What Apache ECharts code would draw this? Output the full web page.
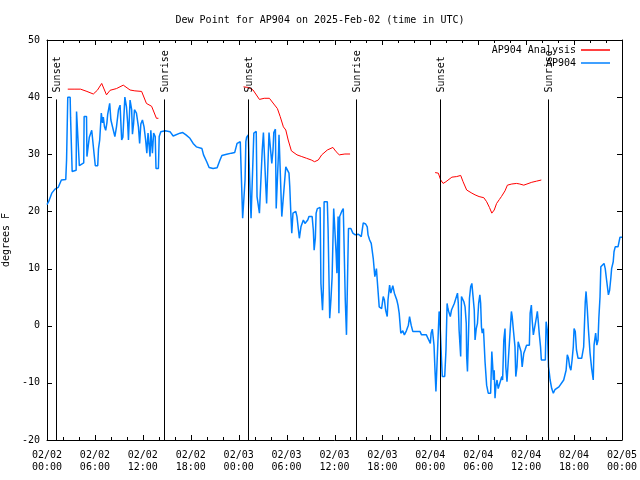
<!DOCTYPE html>
<html><head><meta charset="utf-8">
<script src="https://cdn.jsdelivr.net/npm/echarts@6/dist/echarts.min.js"></script>
<style>html,body{margin:0;padding:0;background:#fff}#c{width:640px;height:480px}</style>
</head><body><div id="c"></div>
<script>
// hours since 2025-02-02 00:00 UTC
const xTickLabels = ['02/02\n00:00','02/02\n06:00','02/02\n12:00','02/02\n18:00','02/03\n00:00','02/03\n06:00','02/03\n12:00','02/03\n18:00','02/04\n00:00','02/04\n06:00','02/04\n12:00','02/04\n18:00','02/05\n00:00'];
const xTickHours = [0,2,4,6,8,10,12,14,16,18,20,22,24,26,28,30,32,34,36,38,40,42,44,46,48,50,52,54,56,58,60,62,64,66,68,70,72];
const yTicks = [-20,-10,0,10,20,30,40,50];
const sunTimes = [1.13, 14.69, 25.2, 38.73, 49.25, 62.77];
const sunLabels = ['Sunset','Sunrise','Sunset','Sunrise','Sunset','Sunrise'];
const sunLineTop = 39.6;

const obsA = [[0.0,21.2],[0.2,21.7],[0.6,23.2],[1.0,23.9],[1.4,24.2],[1.8,25.5],[2.35,25.6],[2.45,29.0],[2.6,40.0],[2.9,40.0],[2.95,36.5],[3.1,36.3],[3.15,27.0],[3.65,27.2],[3.7,37.5],[3.95,37.2],[4.05,28.0],[4.6,28.5],[4.65,36.6],[4.95,36.6],[5.0,29.6],[5.2,29.8],[5.3,33.0],[5.6,34.2],[5.8,34.3],[5.9,30.0],[6.05,28.0],[6.35,28.0],[6.45,31.0],[6.6,32.5],[6.8,37.2],[6.95,35.5],[7.05,36.5],[7.2,34.8],[7.35,34.2],[7.5,35.5],[7.6,37.0],[7.85,38.9],[8.0,36.0],[8.5,33.1],[8.7,34.8],[8.95,37.8],[9.15,38.6],[9.35,32.5],[9.5,33.0],[9.75,40.0],[9.95,38.3],[10.1,35.5],[10.2,32.5],[10.4,39.5],[10.6,37.8],[10.7,33.5],[10.85,35.5],[10.95,37.8],[11.2,37.2],[11.45,34.8],[11.6,31.9],[11.75,35.3],[11.95,36.0],[12.15,34.8],[12.35,32.5],[12.5,30.2],[12.65,33.7],[12.9,29.6],[13.0,34.2],[13.2,30.2],[13.35,33.7],[13.55,33.1],[13.65,27.5],[13.95,27.5],[14.05,33.1],[14.25,33.96],[14.45,34.1]];
const obsB = [[14.8,34.1],[15.4,33.96],[15.8,33.2],[16.0,33.1],[16.65,33.7],[17.0,33.8],[17.4,33.4],[17.9,32.8],[18.3,31.9],[18.7,31.3],[19.4,31.0],[19.6,29.9],[20.0,28.7],[20.3,27.7],[20.8,27.5],[21.3,27.65],[21.66,29.0],[21.9,29.8],[22.5,30.0],[23.1,30.2],[23.5,30.3],[23.8,31.9],[24.05,32.2]];
const obsC = [[24.2,32.2],[24.45,32.2],[24.5,18.8],[24.75,18.8],[24.8,25.5],[24.9,32.2],[25.0,33.0],[25.2,33.4],[25.3,33.4],[25.45,22.6],[25.55,18.8],[25.8,18.8],[25.9,33.7],[26.2,34.0],[26.3,22.6],[26.5,22.8],[26.6,19.7],[26.85,19.7],[26.95,30.7],[27.1,33.8],[27.35,33.8],[27.4,24.3],[27.5,21.4],[27.75,21.4],[27.8,33.8],[27.95,34.0],[28.15,28.4],[28.3,30.7],[28.4,33.8],[28.6,34.4],[28.7,20.5],[28.9,20.5],[29.0,30.7],[29.05,33.4],[29.25,33.2],[29.4,19.1],[29.6,18.8],[29.9,27.8],[30.1,27.8],[30.3,26.7],[30.4,24.3],[30.55,19.1],[30.65,16.2],[30.8,19.7],[31.0,20.0],[31.15,20.0],[31.3,19.1],[31.5,19.1],[31.6,15.3],[31.8,17.3],[32.1,18.5],[32.3,17.9],[32.5,18.2],[32.65,18.5],[32.8,19.1],[33.2,19.1],[33.35,16.7],[33.45,13.2],[33.6,15.3],[33.7,19.7],[33.85,20.5],[34.2,20.7],[34.3,7.4],[34.5,2.7],[34.6,6.5],[34.7,21.7],[35.1,21.7],[35.2,16.7],[35.4,1.3],[35.55,4.5],[35.7,8.5],[35.9,20.5],[36.1,20.8],[36.2,12.7],[36.3,9.2],[36.45,19.1],[36.55,2.2],[36.65,19.1],[36.9,20.0],[37.1,20.5],[37.25,20.8],[37.35,4.5],[37.5,-1.6],[37.7,-1.6],[37.75,17.0],[38.05,17.0],[38.3,16.2],[38.6,15.9],[38.8,15.6],[39.0,16.0]];
const obsD = [[39.2,16.2],[39.35,15.6],[39.6,18.0],[39.9,17.8],[40.1,17.3],[40.2,15.9],[40.4,15.0],[40.6,14.4],[40.85,11.8],[41.05,8.6],[41.25,10.0],[41.35,8.0],[41.6,3.3],[41.9,3.0],[42.1,5.1],[42.25,4.5],[42.4,2.75],[42.6,1.6],[42.7,4.5],[42.9,7.1],[43.05,5.7],[43.3,7.0],[43.5,5.7],[43.8,4.5],[43.95,3.6],[44.1,2.2],[44.3,-1.3],[44.55,-0.9],[44.75,-1.6],[45.0,-0.9],[45.25,0.1],[45.4,1.6],[45.6,0.1],[45.8,-1.0],[46.3,-1.0],[46.7,-1.0],[46.9,-1.6],[47.5,-1.6],[47.8,-2.5],[48.0,-3.1],[48.1,-1.3],[48.25,-0.6],[48.4,-0.6],[48.46,-3.4],[48.6,-8.3],[48.7,-11.5],[48.85,-11.5],[49.0,-1.0]];
const obsE = [[49.1,2.5],[49.2,1.0],[49.4,-6.0],[49.5,-8.9],[49.8,-8.9],[49.96,-4.25],[50.1,3.9],[50.2,3.0],[50.3,2.5],[50.5,1.6],[50.65,2.75],[50.9,2.75],[51.0,3.9],[51.25,3.9],[51.4,5.7],[51.5,3.9],[51.6,-0.75],[51.8,-5.4],[51.9,5.1],[52.1,5.1],[52.2,4.2],[52.35,3.3],[52.5,0.4],[52.55,-5.4],[52.65,-8.0],[52.75,-3.0],[52.9,4.8],[53.05,6.8],[53.2,7.4],[53.35,5.1],[53.5,2.75],[53.6,-2.5],[53.75,-0.5],[53.9,0.4],[54.05,3.9],[54.2,5.4],[54.3,3.9],[54.4,-0.2],[54.5,-1.3],[54.65,-0.5],[54.85,-6.3],[55.05,-10.4],[55.25,-11.8],[55.55,-11.8],[55.7,-4.5],[55.8,-6.9],[55.9,-9.5],[56.0,-7.8],[56.1,-12.7],[56.2,-10.7],[56.35,-9.5],[56.5,-11.0],[56.75,-11.2],[56.95,-8.9],[57.05,-9.5],[57.2,-2.5],[57.35,-0.5],[57.45,-7.2],[57.6,-9.8],[57.85,-9.8],[58.0,-0.75],[58.15,2.5],[58.25,1.6],[58.4,-0.75],[58.6,-3.7],[58.7,-8.9],[58.85,-7.2],[59.0,-2.8],[59.25,-2.5],[59.35,-4.5],[59.5,-7.2],[59.7,-4.8],[59.85,-4.25],[60.05,-3.4],[60.4,-3.4],[60.5,2.2],[60.65,3.6],[60.75,1.0],[60.9,-1.6],[61.1,-1.3],[61.3,1.6],[61.4,2.5],[61.5,1.0],[61.65,-1.6],[61.8,-3.7],[61.9,-6.0],[62.4,-6.0],[62.5,0.7],[62.65,-0.75],[62.8,-7.2],[62.9,-8.3],[63.0,-9.5],[63.2,-11.0],[63.4,-11.8],[63.6,-11.2],[63.8,-11.0],[64.1,-10.7],[64.3,-10.4],[64.7,-9.5],[64.85,-9.5],[65.0,-7.8],[65.15,-5.1],[65.3,-5.7],[65.45,-7.2],[65.6,-7.8],[65.75,-6.0],[65.9,-3.7],[66.0,-0.5],[66.15,-1.0],[66.3,-4.25],[66.5,-5.7],[66.95,-5.7],[67.2,-3.7],[67.4,4.2],[67.5,6.0],[67.65,3.0],[67.8,-0.75],[68.0,-4.8],[68.2,-7.5],[68.4,-9.5],[68.5,-3.4],[68.7,-1.3],[68.85,-3.4],[69.0,-2.5],[69.1,1.3],[69.25,5.1],[69.35,10.3],[69.75,10.9],[69.9,10.0],[70.07,8.0],[70.3,5.4],[70.45,6.2],[70.6,8.3],[70.7,10.0],[70.9,11.2],[71.0,12.95],[71.15,13.8],[71.5,13.8],[71.75,15.5],[72.0,15.5]];

const anaSeg1 = [[2.6,41.4],[3.5,41.4],[4.2,41.4],[5.0,41.0],[5.8,40.55],[6.3,41.2],[6.85,42.4],[7.45,40.4],[7.9,41.2],[8.7,41.5],[9.55,42.1],[10.4,41.25],[11.0,41.1],[11.85,41.0],[12.45,38.9],[13.1,38.4],[13.7,36.3],[13.95,36.3]];
const anaSeg2 = [[24.6,41.8],[25.2,41.7],[25.8,41.25],[26.6,39.6],[27.2,39.8],[27.85,39.8],[28.4,38.8],[28.85,38.0],[29.2,36.6],[29.6,34.8],[29.9,34.25],[30.2,32.5],[30.6,30.6],[31.3,29.9],[31.9,29.6],[32.5,29.3],[33.1,29.0],[33.5,28.7],[33.97,29.0],[34.4,29.9],[35.1,30.75],[35.8,31.2],[36.2,30.45],[36.6,29.9],[37.3,30.05],[37.95,30.05]];
const anaSeg3 = [[48.6,26.8],[49.0,26.7],[49.3,25.5],[49.6,24.9],[49.95,25.2],[50.7,26.0],[51.3,26.1],[51.8,26.3],[52.1,25.2],[52.55,23.75],[53.2,23.2],[53.6,22.9],[54.1,22.6],[54.7,22.4],[55.05,21.7],[55.4,20.7],[55.7,19.7],[56.0,20.25],[56.3,21.4],[56.65,22.1],[56.9,22.6],[57.35,23.6],[57.65,24.6],[58.2,24.8],[58.8,24.9],[59.2,24.8],[59.7,24.6],[60.1,24.8],[60.7,25.1],[61.3,25.3],[61.9,25.5]];

const FONT = 'DejaVu Sans Mono';
const BLUE = '#0080ff', RED = '#ff0000';
const obsAll = obsA.concat(obsB, obsC, obsD, obsE);

const chart = echarts.init(document.getElementById('c'), null, {renderer:'canvas'});
function xAxisOpt(pos, showLabel){
  return {type:'value', position:pos, min:0, max:72, interval:6,
    axisLine:{show:true, onZero:false, lineStyle:{color:'#000', width:1}},
    splitLine:{show:false},
    axisTick:{show:false},
    axisLabel:showLabel ? {show:true, margin:9, lineHeight:12, fontFamily:FONT, fontSize:10, color:'#000',
        formatter:v => xTickLabels[Math.round(v/6)]} : {show:false}};
}
function yAxisOpt(pos, showLabel){
  const o = {type:'value', position:pos, min:-20, max:50, interval:10,
    axisLine:{show:true, onZero:false, lineStyle:{color:'#000', width:1}},
    splitLine:{show:false},
    axisTick:{show:false},
    axisLabel:showLabel ? {show:true, margin:7, fontFamily:FONT, fontSize:10, color:'#000',
        formatter:v => yTicks.includes(v) ? String(v) : ''} : {show:false}};
  if (showLabel) {
    o.name = 'degrees F'; o.nameLocation = 'middle'; o.nameGap = 32;
    o.nameTextStyle = {fontFamily:FONT, fontSize:10, color:'#000'};
  }
  return o;
}
const legText = {fontFamily:FONT, fontSize:10, color:'#000'};

function px(v){ return Math.round(v) + 0.5; }

const option = {
  animation:false,
  backgroundColor:'#fff',
  title:{text:'Dew Point for AP904 on 2025-Feb-02 (time in UTC)', left:'center', top:10,
    textStyle:{fontFamily:FONT, fontSize:10, fontWeight:'normal', color:'#000'}},
  grid:{left:47, right:18, top:40, bottom:40, containLabel:false, outerBoundsMode:'none'},
  legend:[
    {data:['AP904 Analysis'], right:30, top:45, padding:0, align:'right', icon:'rect', itemWidth:29, itemHeight:1.5,
     textStyle:legText},
    {data:['AP904'], right:30, top:58, padding:0, align:'right', icon:'rect', itemWidth:29, itemHeight:1.5,
     textStyle:legText}
  ],
  xAxis:[xAxisOpt('bottom', true), xAxisOpt('top', false)],
  yAxis:[yAxisOpt('left', true), yAxisOpt('right', false)],
  series:[
    {name:'AP904', type:'line', data:obsAll, symbol:'none', z:2,
     lineStyle:{color:BLUE, width:1.5}, itemStyle:{color:BLUE}},
    {name:'AP904 Analysis', type:'line', data:anaSeg1, symbol:'none', z:3,
     lineStyle:{color:RED, width:1}, itemStyle:{color:RED}},
    {name:'AP904 Analysis', type:'line', data:anaSeg2, symbol:'none', z:3,
     lineStyle:{color:RED, width:1}, itemStyle:{color:RED}},
    {name:'AP904 Analysis', type:'line', data:anaSeg3, symbol:'none', z:3,
     lineStyle:{color:RED, width:1}, itemStyle:{color:RED}},
    {name:'ticks', type:'custom', z:5, silent:true, clip:false,
     data:[[0, -20]], encode:{x:0, y:1},
     renderItem:function(params, api){
       const ch = [];
       const st = {stroke:'#000', lineWidth:1};
       xTickHours.forEach(h => {
         const len = (h % 6 === 0) ? 5 : 3;
         const b = api.coord([h, -20]), t = api.coord([h, 50]);
         const x = px(b[0]);
         ch.push({type:'line', shape:{x1:x, y1:b[1], x2:x, y2:b[1]-len}, style:st});
         ch.push({type:'line', shape:{x1:x, y1:t[1], x2:x, y2:t[1]+len}, style:st});
       });
       yTicks.forEach(v => {
         const l = api.coord([0, v]), r = api.coord([72, v]);
         const y = px(l[1]);
         ch.push({type:'line', shape:{x1:l[0], y1:y, x2:l[0]+5, y2:y}, style:st});
         ch.push({type:'line', shape:{x1:r[0], y1:y, x2:r[0]-5, y2:y}, style:st});
       });
       return {type:'group', children:ch};
     }},
    {name:'sun', type:'custom', z:4, silent:true,
     data:sunTimes.map(h => [h, sunLineTop]),
     encode:{x:0, y:1},
     renderItem:function(params, api){
       const h = api.value(0);
       const top = api.coord([h, api.value(1)]);
       const bot = api.coord([h, -20]);
       return {type:'group', children:[
         {type:'line', shape:{x1:px(top[0]), y1:top[1], x2:px(top[0]), y2:bot[1]},
          style:{stroke:'#000', lineWidth:1}},
         {type:'text', x:top[0]+1, y:top[1]-7, rotation:Math.PI/2,
          style:{text:sunLabels[params.dataIndex], fill:'#000', font:'10px "DejaVu Sans Mono"',
                 textAlign:'left', textVerticalAlign:'middle'}}
       ]};
     }}
  ]
};
chart.setOption(option);
</script>
</body></html>
